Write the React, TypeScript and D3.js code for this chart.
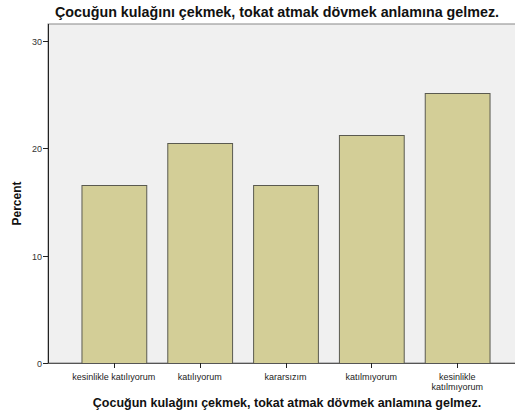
import React, { useEffect, useRef } from "react";
import * as d3 from "d3";

const categories = [
  "kesinlikle katılıyorum",
  "katılıyorum",
  "kararsızım",
  "katılmıyorum",
  "kesinlikle katılmıyorum",
];
const percents = [16.6, 20.5, 16.6, 21.2, 25.2];
const yTicks = [0, 10, 20, 30];
const title = "Çocuğun kulağını çekmek, tokat atmak dövmek anlamına gelmez.";

const W = 515;
const H = 419;
const FONT = "'Liberation Sans', Arial, sans-serif";

export default function App() {
  const ref = useRef<SVGSVGElement>(null);

  useEffect(() => {
    const svg = d3.select(ref.current);
    svg.selectAll("*").remove();

    const left = 48,
      right = 523,
      top = 24,
      bottom = 363;

    const x = d3
      .scaleBand()
      .domain(categories)
      .range([left, right])
      .paddingInner(0.245)
      .paddingOuter(0.39);
    const y = d3.scaleLinear().domain([0, 30]).range([bottom, 41]);

    svg
      .append("rect")
      .attr("x", left)
      .attr("y", top)
      .attr("width", right - left)
      .attr("height", bottom - top)
      .attr("fill", "#f0f0f0")
      .attr("stroke", "#888")
      .attr("stroke-width", 1);

    svg
      .append("g")
      .selectAll("rect")
      .data(percents)
      .join("rect")
      .attr("x", (d, i) => x(categories[i])! + 0.5)
      .attr("y", (d) => Math.round(y(d)) + 0.5)
      .attr("width", x.bandwidth())
      .attr("height", (d) => bottom - Math.round(y(d)))
      .attr("fill", "#d3ce97")
      .attr("stroke", "#5a5a50")
      .attr("stroke-width", 1);

    // y axis
    const ya = svg.append("g").attr("font-family", FONT).attr("font-size", 9);
    ya.append("line")
      .attr("x1", left + 0.5)
      .attr("x2", left + 0.5)
      .attr("y1", top)
      .attr("y2", bottom)
      .attr("stroke", "#222");
    ya.selectAll("line.t")
      .data(yTicks)
      .join("line")
      .attr("class", "t")
      .attr("x1", left - 5)
      .attr("x2", left)
      .attr("y1", (d) => Math.round(y(d)) + 0.5)
      .attr("y2", (d) => Math.round(y(d)) + 0.5)
      .attr("stroke", "#222");
    ya.selectAll("text")
      .data(yTicks)
      .join("text")
      .attr("x", left - 6)
      .attr("y", (d) => Math.round(y(d)) + 3.5)
      .attr("text-anchor", "end")
      .attr("fill", "#333")
      .text((d) => d);

    // x axis
    const xa = svg.append("g").attr("font-family", FONT).attr("font-size", 9);
    xa.append("line")
      .attr("x1", left)
      .attr("x2", right)
      .attr("y1", bottom + 0.5)
      .attr("y2", bottom + 0.5)
      .attr("stroke", "#555");
    xa.selectAll("line.t")
      .data(categories)
      .join("line")
      .attr("class", "t")
      .attr("x1", (d) => Math.round(x(d)! + x.bandwidth() / 2) + 0.5)
      .attr("x2", (d) => Math.round(x(d)! + x.bandwidth() / 2) + 0.5)
      .attr("y1", bottom)
      .attr("y2", bottom + 5)
      .attr("stroke", "#222");
    const labels = xa
      .selectAll("text")
      .data(categories)
      .join("text")
      .attr("text-anchor", "middle")
      .attr("fill", "#222")
      .attr("y", bottom + 17);
    labels.each(function (d) {
      const cx = x(d)! + x.bandwidth() / 2;
      const t = d3.select(this);
      const lines = d === "kesinlikle katılmıyorum" ? d.split(" ") : [d];
      lines.forEach((ln, i) => {
        t.append("tspan")
          .attr("x", cx)
          .attr("dy", i === 0 ? 0 : 10)
          .text(ln);
      });
    });

    // titles
    svg
      .append("text")
      .attr("x", 277)
      .attr("y", 17)
      .attr("text-anchor", "middle")
      .attr("font-family", FONT)
      .attr("font-size", 14.3)
      .attr("font-weight", "bold")
      .attr("fill", "#111")
      .text(title);
    svg
      .append("text")
      .attr("x", 287)
      .attr("y", 407)
      .attr("text-anchor", "middle")
      .attr("font-family", FONT)
      .attr("font-size", 12.5)
      .attr("font-weight", "bold")
      .attr("fill", "#111")
      .text(title);
    svg
      .append("text")
      .attr("transform", `translate(21,${(top + bottom) / 2 + 10}) rotate(-90)`)
      .attr("text-anchor", "middle")
      .attr("font-family", FONT)
      .attr("font-size", 12)
      .attr("font-weight", "bold")
      .attr("fill", "#111")
      .text("Percent");
  }, []);

  return (
    <svg
      ref={ref}
      width={W}
      height={H}
      style={{ position: "absolute", left: 0, top: 0, background: "#fff" }}
    />
  );
}
